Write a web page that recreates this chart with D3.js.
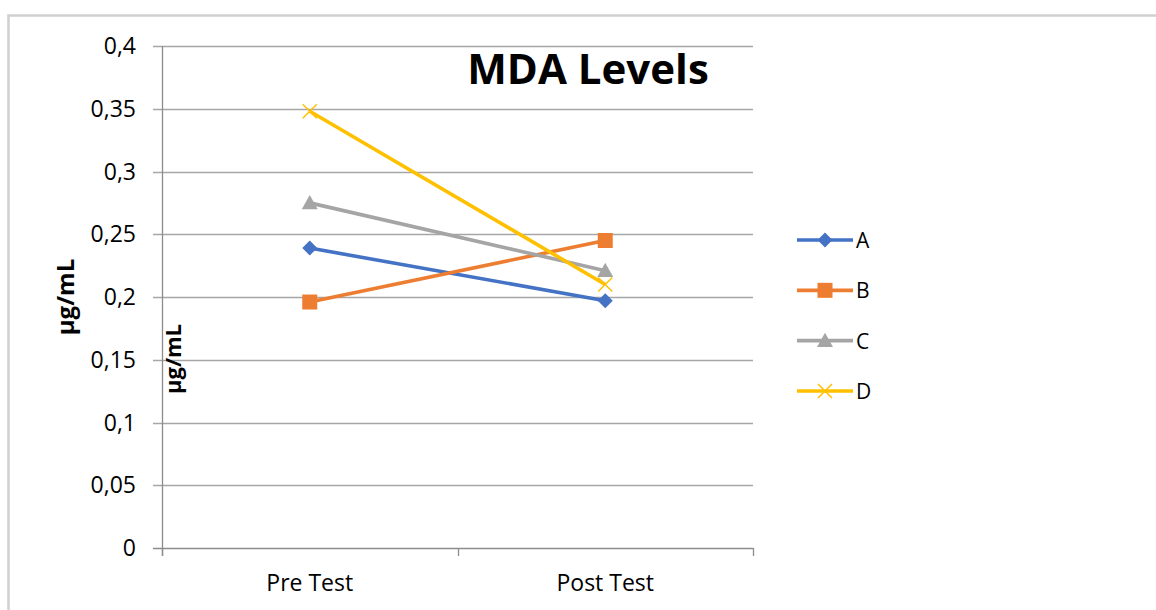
<!DOCTYPE html>
<html>
<head>
<meta charset="utf-8">
<script src="https://cdn.jsdelivr.net/npm/d3@7"></script>
<style>
  body { margin: 0; background: white; }
  text { font-family: "Open Sans", sans-serif; }
</style>
</head>
<body>
<div id="container"></div>
<script>
let w = 1156;
let h = 610;

// data
let categories = ["Pre Test", "Post Test"];
let seriesNames = ["A", "B", "C", "D"];
let valuesA = [0.239, 0.197];
let valuesB = [0.196, 0.245];
let valuesC = [0.275, 0.221];
let valuesD = [0.348, 0.210];
let yTicks = [0, 0.05, 0.1, 0.15, 0.2, 0.25, 0.3, 0.35, 0.4];
let colors = ["#4472C4", "#ED7D31", "#A5A5A5", "#FFC000"];
let markers = ["diamond", "square", "triangle", "cross"];

let series = seriesNames.map(function(name, i){
  return {name: name, values: [valuesA, valuesB, valuesC, valuesD][i], color: colors[i], marker: markers[i]};
});

let viz = d3.select("#container")
  .append("svg")
    .attr("width", w)
    .attr("height", h)
    .style("background-color", "white")
;

// chart frame
viz.append("path")
  .attr("d", "M8.5," + h + "V15.5H" + w)
  .attr("fill", "none")
  .attr("stroke", "#d0d0d0")
  .attr("stroke-width", 2.5)
;

let xScale = d3.scaleBand().domain(categories).range([162, 753]);
let yScale = d3.scaleLinear().domain([0, 0.4]).range([548, 46]);

function fmt(d){
  return String(d).replace(".", ",");
}

// gridlines
viz.selectAll(".grid").data(yTicks).enter()
  .append("line")
    .attr("x1", 153)
    .attr("x2", 753)
    .attr("y1", function(d){ return Math.round(yScale(d)) + 0.5; })
    .attr("y2", function(d){ return Math.round(yScale(d)) + 0.5; })
    .attr("stroke", function(d){ return d == 0 ? "#8c8c8c" : "#a6a6a6"; })
    .attr("stroke-width", 1.3)
;

// y axis line
viz.append("line")
  .attr("x1", 162.5).attr("x2", 162.5)
  .attr("y1", 46).attr("y2", 556)
  .attr("stroke", "#8c8c8c")
  .attr("stroke-width", 1.3)
;

// x ticks
let xEdges = [162, 162 + xScale.bandwidth(), 753];
viz.selectAll(".xtick").data(xEdges).enter()
  .append("line")
    .attr("x1", function(d){ return Math.round(d) + 0.5; })
    .attr("x2", function(d){ return Math.round(d) + 0.5; })
    .attr("y1", 548)
    .attr("y2", 556)
    .attr("stroke", "#8c8c8c")
    .attr("stroke-width", 1.3)
;

viz.selectAll(".ylabel").data(yTicks).enter()
  .append("text")
    .text(fmt)
    .attr("x", 136)
    .attr("y", function(d){ return yScale(d) + 8; })
    .attr("text-anchor", "end")
    .style("font-size", "23px")
    .attr("fill", "#000")
;

viz.selectAll(".xlabel").data(categories).enter()
  .append("text")
    .text(function(d){ return d; })
    .attr("x", function(d){ return xScale(d) + xScale.bandwidth() / 2; })
    .attr("y", 591)
    .attr("text-anchor", "middle")
    .style("font-size", "23px")
    .attr("fill", "#000")
;

// axis titles
viz.append("text")
  .text("µg/mL")
  .attr("transform", "translate(74,297) rotate(-90)")
  .attr("text-anchor", "middle")
  .style("font-size", "24px")
  .style("font-weight", "bold")
;
viz.append("text")
  .text("µg/mL")
  .attr("transform", "translate(181,359) rotate(-90)")
  .attr("text-anchor", "middle")
  .style("font-size", "22px")
  .style("font-weight", "bold")
;

viz.append("text")
  .text("MDA Levels")
  .attr("x", 588)
  .attr("y", 84)
  .attr("text-anchor", "middle")
  .style("font-size", "42px")
  .style("font-weight", "bold")
;

function markerPath(type, s){
  if (type == "diamond") {
    return "M0," + (-s) + "L" + s + ",0L0," + s + "L" + (-s) + ",0Z";
  } if (type == "square") {
    return "M" + (-s) + "," + (-s) + "H" + s + "V" + s + "H" + (-s) + "Z";
  } if (type == "triangle") {
    return "M0," + (-s) + "L" + s + "," + (s * 0.8) + "L" + (-s) + "," + (s * 0.8) + "Z";
  }
  return "M" + (-s) + "," + (-s) + "L" + s + "," + s + "M" + s + "," + (-s) + "L" + (-s) + "," + s;
}

function markerSize(type){
  if (type == "diamond") return 7.5;
  if (type == "square") return 7.5;
  if (type == "triangle") return 8;
  return 7;
}

function drawMarker(sel, d){
  sel.append("path")
    .attr("d", markerPath(d.marker, markerSize(d.marker)))
    .attr("fill", d.marker == "cross" ? "none" : d.color)
    .attr("stroke", d.color)
    .attr("stroke-width", d.marker == "cross" ? 1.5 : 0)
  ;
}

let line = d3.line()
  .x(function(d, i){ return xScale(categories[i]) + xScale.bandwidth() / 2; })
  .y(function(d){ return yScale(d); })
;

let groups = viz.selectAll(".series").data(series).enter()
  .append("g")
    .classed("series", true)
;

groups.append("path")
  .attr("d", function(d){ return line(d.values); })
  .attr("fill", "none")
  .attr("stroke", function(d){ return d.color; })
  .attr("stroke-width", 3.6)
;

groups.each(function(d){
  let g = d3.select(this);
  d.values.forEach(function(v, i){
    let m = g.append("g")
      .attr("transform", "translate(" + (xScale(categories[i]) + xScale.bandwidth() / 2) + "," + yScale(v) + ")");
    drawMarker(m, d);
  });
});

// legend
let legendY = d3.scalePoint().domain(seriesNames).range([240, 391]);
let legend = viz.selectAll(".legend").data(series).enter()
  .append("g")
    .attr("transform", function(d){ return "translate(797," + legendY(d.name) + ")"; })
;
legend.append("line")
  .attr("x1", 0).attr("x2", 56)
  .attr("stroke", function(d){ return d.color; })
  .attr("stroke-width", 3.6)
;
legend.each(function(d){
  let m = d3.select(this).append("g").attr("transform", "translate(28,0)");
  drawMarker(m, d);
});
legend.append("text")
  .text(function(d){ return d.name; })
  .attr("x", 59)
  .attr("y", 8)
  .style("font-size", "21px")
;
</script>
</body>
</html>
